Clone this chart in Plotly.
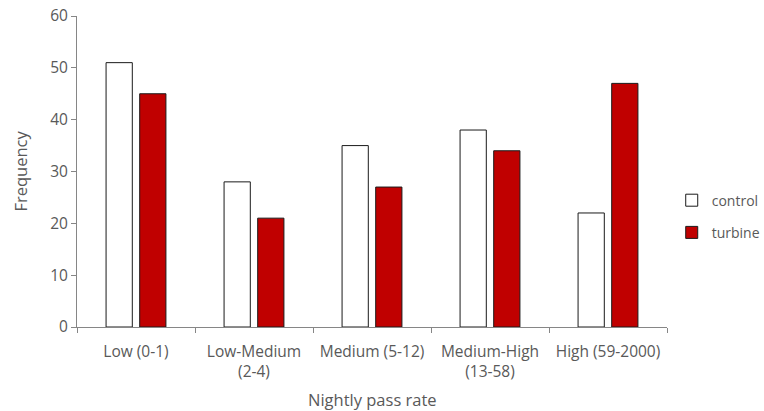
import plotly.graph_objects as go

categories = ["Low (0-1)", "Low-Medium<br>(2-4)", "Medium (5-12)", "Medium-High<br>(13-58)", "High (59-2000)"]
control = [51, 28, 35, 38, 22]
turbine = [45, 21, 27, 34, 47]
y_ticks = [0, 10, 20, 30, 40, 50, 60]

font_family = "Open Sans, Liberation Sans, sans-serif"
gray = "#595959"
axis_gray = "#868686"

fig = go.Figure()
fig.add_bar(x=categories, y=control, name="control", legendgroup="c",
            marker=dict(color="white", line=dict(color="#1a1a1a", width=1)))
fig.add_bar(x=categories, y=turbine, name="turbine", legendgroup="t",
            marker=dict(color="#C00000", line=dict(color="#1a1a1a", width=1)))

fig.update_layout(
    width=764, height=411,
    paper_bgcolor="white", plot_bgcolor="white",
    margin=dict(l=77, r=97, t=16, b=84, autoexpand=False),
    barmode="group", bargap=0.43, bargroupgap=0.22,
    font=dict(family=font_family, size=15, color=gray),
    legend=dict(x=1.008, y=0.355, xanchor="left", yanchor="middle",
                font=dict(size=14, color=gray), itemwidth=30,
                tracegroupgap=11),
    showlegend=True,
    annotations=[
        dict(text="Frequency", xref="paper", yref="paper", x=-0.0966, y=0.5,
             xanchor="center", yanchor="middle", textangle=-90, showarrow=False,
             font=dict(size=16.5, color=gray)),
        dict(text="Nightly pass rate", xref="paper", yref="paper", x=0.5, y=-0.2347,
             xanchor="center", yanchor="middle", showarrow=False,
             font=dict(size=16.5, color=gray)),
    ],
)
fig.update_xaxes(
    automargin=False,
    showline=True, linecolor=axis_gray, linewidth=1,
    ticks="outside", tickson="boundaries", ticklen=5, tickcolor=axis_gray,
    ticklabelstandoff=10, ticklabeloverflow="allow",
    tickfont=dict(size=15.5, color=gray),
)
fig.update_yaxes(
    automargin=False,
    range=[0, 60], tickvals=y_ticks, showgrid=False, zeroline=False,
    showline=True, linecolor=axis_gray, linewidth=1,
    ticks="outside", ticklen=5, tickcolor=axis_gray,
    ticklabelstandoff=0, ticklabeloverflow="allow",
    tickfont=dict(size=15.5, color=gray),
)

fig.write_html("out.html", config={"displayModeBar": False},
               post_script="document.body.style.margin='0';")
